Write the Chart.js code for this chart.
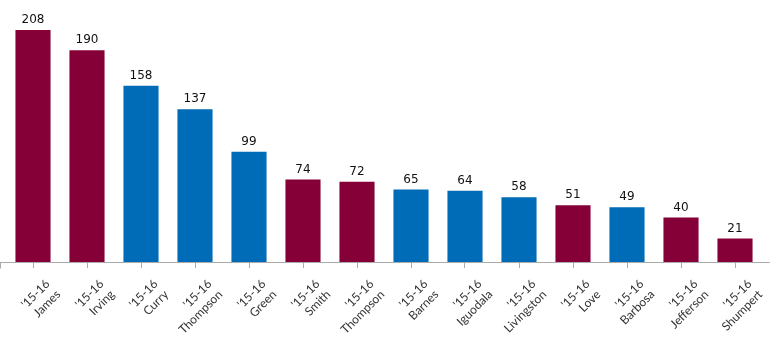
<!DOCTYPE html>
<html>
<head>
<meta charset="utf-8">
<script src="https://cdn.jsdelivr.net/npm/chart.js@4"></script>
<style>
  html, body { margin: 0; padding: 0; background: #fff; }
  #wrap { width: 770px; height: 353px; position: relative; overflow: hidden; }
  .tick { position: absolute; width: 0; height: 0; transform: rotate(-45deg); transform-origin: 0 0; }
  .tick div {
    position: absolute; right: 0; top: -7.5px;
    font: 12px/15px Lato, sans-serif; color: #333;
    text-align: right; white-space: nowrap;
  }
</style>
</head>
<body>
<div id="wrap"><canvas id="chart"></canvas></div>
<script>
const seasons = ["'15-16", "'15-16", "'15-16", "'15-16", "'15-16", "'15-16", "'15-16",
                 "'15-16", "'15-16", "'15-16", "'15-16", "'15-16", "'15-16", "'15-16"];
const players = ["James", "Irving", "Curry", "Thompson", "Green", "Smith", "Thompson",
                 "Barnes", "Iguodala", "Livingston", "Love", "Barbosa", "Jefferson", "Shumpert"];
const teams = ["CLE", "CLE", "GSW", "GSW", "GSW", "CLE", "CLE",
               "GSW", "GSW", "GSW", "CLE", "GSW", "CLE", "CLE"];
const points = [208, 190, 158, 137, 99, 74, 72, 65, 64, 58, 51, 49, 40, 21];

const teamColors = { CLE: "#860038", GSW: "#006bb6" };

// value labels above each bar
const valueLabels = {
  id: "valueLabels",
  afterDatasetsDraw(chart) {
    const ctx = chart.ctx;
    const meta = chart.getDatasetMeta(0);
    ctx.save();
    ctx.font = "12px 'DejaVu Sans'";
    ctx.fillStyle = "#111";
    ctx.textAlign = "center";
    ctx.textBaseline = "bottom";
    meta.data.forEach((bar, i) => {
      ctx.fillText(points[i], bar.x, bar.y - 4);
    });
    ctx.restore();
  }
};

// rotated two-line category labels as html, placed from the x scale
const rotatedLabels = {
  id: "rotatedLabels",
  afterRender(chart) {
    const wrap = document.getElementById("wrap");
    wrap.querySelectorAll(".tick").forEach(el => el.remove());
    const xs = chart.scales.x;
    const y0 = chart.scales.y.getPixelForValue(0);
    chart.data.labels.forEach((lines, i) => {
      const x = xs.getPixelForValue(i);
      const tick = document.createElement("div");
      tick.className = "tick";
      tick.style.left = (x + 13.5) + "px";
      tick.style.top = (y0 + 18.5) + "px";
      const inner = document.createElement("div");
      inner.innerHTML = lines.join("<br>");
      tick.appendChild(inner);
      wrap.appendChild(tick);
    });
  }
};

// baseline runs across the whole width
const baseline = {
  id: "baseline",
  afterDraw(chart) {
    const ctx = chart.ctx;
    const y = Math.round(chart.scales.y.getPixelForValue(0)) + 0.5;
    ctx.save();
    ctx.strokeStyle = "#aaaaaa";
    ctx.lineWidth = 1;
    ctx.beginPath();
    ctx.moveTo(0, y);
    ctx.lineTo(chart.width, y);
    ctx.moveTo(0.5, y);
    ctx.lineTo(0.5, y + 6);
    ctx.stroke();
    ctx.restore();
  }
};

new Chart(document.getElementById("chart"), {
  type: "bar",
  data: {
    labels: players.map((p, i) => [seasons[i], p]),
    datasets: [{
      data: points,
      backgroundColor: teams.map(t => teamColors[t]),
      barPercentage: 0.65,
      categoryPercentage: 1
    }]
  },
  options: {
    responsive: true,
    maintainAspectRatio: false,
    animation: false,
    layout: { padding: { left: 6, right: 8, top: 0, bottom: 0 } },
    plugins: { legend: { display: false }, tooltip: { enabled: false } },
    scales: {
      x: {
        grid: { drawOnChartArea: false, offset: false, color: "#aaaaaa", tickLength: 6 },
        border: { color: "#aaaaaa" },
        ticks: { display: false },
        afterFit(scale) { scale.height = 91; }
      },
      y: {
        display: false,
        min: 0,
        max: 235
      }
    }
  },
  plugins: [valueLabels, rotatedLabels, baseline]
});
</script>
</body>
</html>
